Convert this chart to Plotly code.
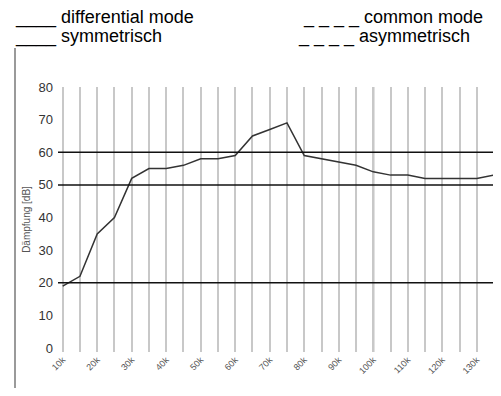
import plotly.graph_objects as go

# data (frequency in kHz, attenuation in dB)
freq_khz = [10, 15, 20, 25, 30, 35, 40, 45, 50, 55, 60, 65, 70, 75, 80, 85, 90, 95,
            100, 105, 110, 115, 120, 125, 130, 135]
daempfung = [19, 22, 35, 40, 52, 55, 55, 56, 58, 58, 59, 65, 67, 69, 59, 58, 57, 56,
             54, 53, 53, 52, 52, 52, 52, 53]
x_tickvals = [10, 20, 30, 40, 50, 60, 70, 80, 90, 100, 110, 120, 130]
x_ticktext = ["10k", "20k", "30k", "40k", "50k", "60k", "70k", "80k", "90k",
              "100k", "110k", "120k", "130k"]
y_tickvals = [0, 10, 20, 30, 40, 50, 60, 70, 80]
limit_lines_db = [20, 50, 60]
dark_grid_khz = [95, 100]

# the page body has an 8px margin; figure is sized to fit the 501x396 window
OFF = 8
W, H = 501 - 2 * OFF, 396 - 2 * OFF
L, R, T, B = 58 - OFF, 0, 87 - OFF, H - (352 - OFF)
pw, ph = W - L - R, H - T - B


def px(x):  # reference window pixel -> paper x
    return (x - OFF - L) / pw


def py(y):  # reference window pixel -> paper y
    return (H - B - (y - OFF)) / ph


fig = go.Figure()
fig.add_trace(go.Scatter(x=freq_khz, y=daempfung, mode="lines",
                         line=dict(color="#333333", width=1.5), showlegend=False))

shapes = []
for v in limit_lines_db:
    shapes.append(dict(type="line", xref="paper", yref="y", x0=0, x1=1, y0=v, y1=v,
                       line=dict(color="#111111", width=1.5), layer="above"))
for v in dark_grid_khz:
    shapes.append(dict(type="line", xref="x", yref="paper", x0=v, x1=v, y0=0, y1=1,
                       line=dict(color="#8a8a8a", width=2), layer="below"))
shapes.append(dict(type="line", xref="paper", yref="paper", x0=px(15), x1=px(15),
                   y0=py(48), y1=py(400), line=dict(color="#9a9a9a", width=2)))

fam = "Liberation Sans, Arial, sans-serif"
font_leg = dict(family=fam, size=18, color="#000000")
annotations = [
    dict(text="____ differential mode", x=px(13), y=py(17.5), xanchor="left",
         yanchor="middle"),
    dict(text="____ symmetrisch", x=px(13), y=py(36.5), xanchor="left",
         yanchor="middle"),
    dict(text="_ _ _ _ common mode", x=px(301), y=py(17.5), xanchor="left",
         yanchor="middle"),
    dict(text="_ _ _ _ asymmetrisch", x=px(296), y=py(36.5), xanchor="left",
         yanchor="middle"),
]
for a in annotations:
    a.update(xref="paper", yref="paper", showarrow=False, font=font_leg)

fig.update_layout(
    width=W, height=H,
    margin=dict(l=L, r=R, t=T, b=B, pad=0, autoexpand=False),
    paper_bgcolor="white", plot_bgcolor="white",
    shapes=shapes, annotations=annotations,
    xaxis=dict(range=[8.64, 134.7], tickvals=x_tickvals, ticktext=x_ticktext,
               tickangle=-45, showgrid=True, gridcolor="#c8c8c8", gridwidth=2,
               minor=dict(dtick=5, tick0=10, showgrid=True, gridcolor="#c8c8c8", gridwidth=2),
               zeroline=False, showline=False, ticks="", automargin=False,
               tickfont=dict(family=fam, size=9, color="#555555")),
    yaxis=dict(range=[-1.2, 80], tickvals=y_tickvals, showgrid=False, zeroline=False,
               showline=False, ticks="", automargin=False, ticklabelstandoff=4,
               tickfont=dict(family=fam, size=13, color="#333333"),
               title=dict(text="Dämpfung [dB]", standoff=6,
                          font=dict(family=fam, size=10, color="#555555"))),
)

fig.write_html("out.html")
